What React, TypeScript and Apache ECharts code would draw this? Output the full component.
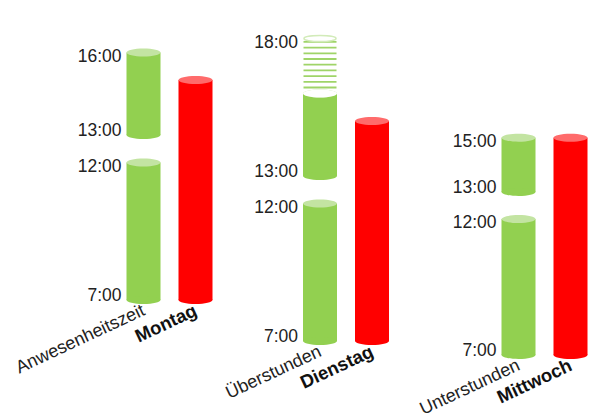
import React, { useEffect, useRef } from "react";
import * as echarts from "echarts";

// ---- data ----
const days = ["Montag", "Dienstag", "Mittwoch"];
const statusLabels = ["Anwesenheitszeit", "Überstunden", "Unterstunden"];
const arrival = [7, 7, 7];
const breakStart = [12, 12, 12];
const breakEnd = [13, 13, 13];
const regularEnd = [16, 16, 15];
const departure = [16, 18, 15];
const targetHours = [8, 8, 8];
const axisMax = [17, 19, 19];

// ---- layout ----
const gridLeft = [117.5, 294, 492.5];
const gridWidth = 104;
const baselineY = [300, 341, 359];
const pxPerHour = 27.5;
const axisMin = 7;

const GREEN = "#92d050";
const GREEN_CAP = "#c3e4a2";
const RED = "#ff0000";
const RED_CAP = "#ff6b6b";
const FONT = "'Liberation Sans', Arial, sans-serif";

const fmt = (h: number) => `${h}:00`;

function buildSegments(i: number) {
  // [xIndex, start, end, kind(0 green,1 red,2 hatched), labelStart, labelEnd]
  const segs: number[][] = [];
  segs.push([0, arrival[i], breakStart[i], 0, 1, 1]);
  segs.push([0, breakEnd[i], regularEnd[i], 0, 1, departure[i] === regularEnd[i] ? 1 : 0]);
  if (departure[i] > regularEnd[i]) segs.push([0, regularEnd[i], departure[i], 2, 0, 1]);
  segs.push([1, arrival[i], arrival[i] + targetHours[i], 1, 0, 0]);
  return segs;
}

function renderCylinder(params: any, api: any) {
  const xi = api.value(0);
  const start = api.value(1);
  const end = api.value(2);
  const kind = api.value(3);
  const lblStart = api.value(4);
  const lblEnd = api.value(5);
  const p0 = api.coord([xi, start]);
  const p1 = api.coord([xi, end]);
  const cx = p0[0];
  const yb = p0[1];
  const yt = p1[1];
  const w = 34;
  const rx = w / 2;
  const ry = 4;
  const children: any[] = [];
  if (kind === 2) {
    children.push({
      type: "ellipse",
      shape: { cx, cy: yb, rx, ry },
      style: { fill: "#ffffff" },
    });
    for (let y = yb - 6; y > yt + 2; y -= 5.7) {
      children.push({
        type: "line",
        shape: { x1: cx - rx + 0.5, y1: y, x2: cx + rx - 0.5, y2: y },
        style: { stroke: "#9fd468", lineWidth: 1.8 },
      });
    }
    children.push({
      type: "ellipse",
      shape: { cx, cy: yt, rx: rx - 1, ry: ry - 1 },
      style: { fill: "#ffffff", stroke: "#d2ebb9", lineWidth: 1.5 },
    });
  } else {
    const body = kind === 1 ? RED : GREEN;
    const cap = kind === 1 ? RED_CAP : GREEN_CAP;
    children.push({
      type: "rect",
      shape: { x: cx - rx, y: yt, width: w, height: yb - yt },
      style: { fill: body },
    });
    children.push({
      type: "ellipse",
      shape: { cx, cy: yb, rx, ry },
      style: { fill: body },
    });
    children.push({
      type: "ellipse",
      shape: { cx, cy: yt, rx, ry },
      style: { fill: cap },
    });
  }
  const lx = cx - rx - 5;
  const textStyle = {
    align: "right",
    verticalAlign: "middle",
    fontSize: 17.5,
    fontFamily: FONT,
    fill: "#222222",
  };
  if (lblStart) {
    children.push({
      type: "text",
      x: lx,
      y: yb - 5,
      style: { ...textStyle, text: fmt(start) },
    });
  }
  if (lblEnd) {
    children.push({
      type: "text",
      x: lx,
      y: yt + 3,
      style: { ...textStyle, text: fmt(end) },
    });
  }
  return { type: "group", children };
}

export default function App() {
  const ref = useRef<HTMLDivElement>(null);
  useEffect(() => {
    if (!ref.current) return;
    const chart = echarts.init(ref.current, null, { renderer: "svg" });
    const grid = days.map((_, i) => ({
      left: gridLeft[i],
      width: gridWidth,
      top: baselineY[i] - (axisMax[i] - axisMin) * pxPerHour,
      height: (axisMax[i] - axisMin) * pxPerHour,
    }));
    const xAxis = days.map((d, i) => ({
      type: "category",
      gridIndex: i,
      data: [statusLabels[i], d],
      axisLine: { show: false },
      axisTick: { show: false },
      axisLabel: {
        rotate: 25,
        margin: 9,
        fontSize: 18,
        fontFamily: FONT,
        color: "#222222",
        interval: 0,
        formatter: (v: string, idx: number) => (idx === 1 ? `{b|${v}}` : v),
        rich: {
          b: { fontWeight: "bold", fontSize: 18.5, fontFamily: FONT, color: "#111111" },
        },
      },
    }));
    const yAxis = days.map((_, i) => ({
      type: "value",
      gridIndex: i,
      min: axisMin,
      max: axisMax[i],
      show: false,
    }));
    const series = days.map((_, i) => ({
      type: "custom",
      xAxisIndex: i,
      yAxisIndex: i,
      renderItem: renderCylinder,
      data: buildSegments(i),
      clip: false,
    }));
    chart.setOption({
      animation: false,
      backgroundColor: "#ffffff",
      grid,
      xAxis,
      yAxis,
      series,
    } as any);
    return () => chart.dispose();
  }, []);
  return (
    <div
      ref={ref}
      style={{ width: 604, height: 419, position: "absolute", left: 0, top: 0 }}
    />
  );
}
